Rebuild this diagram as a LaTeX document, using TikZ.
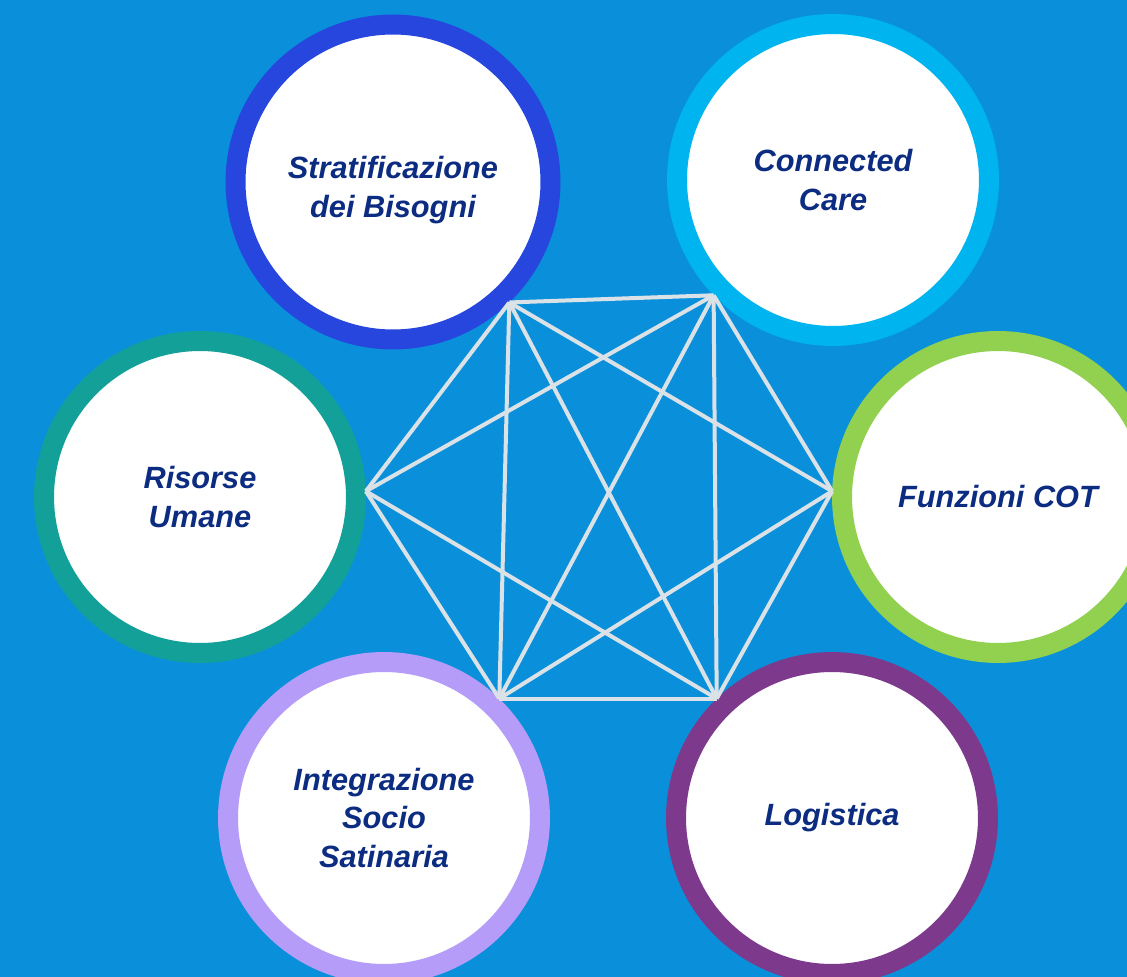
\documentclass[tikz,border=0pt]{standalone}
\usepackage{fontspec}
\setmainfont{Liberation Sans}
\usepackage{tikz}
\definecolor{bgblue}{RGB}{10,144,218}
\definecolor{txtblue}{RGB}{11,44,128}
\definecolor{linegray}{RGB}{218,226,232}
\definecolor{ringS}{RGB}{38,70,222}
\definecolor{ringC}{RGB}{0,180,240}
\definecolor{ringR}{RGB}{18,160,152}
\definecolor{ringF}{RGB}{146,208,80}
\definecolor{ringI}{RGB}{180,156,248}
\definecolor{ringL}{RGB}{125,58,140}
\tikzset{topic/.style = {shape=circle,draw,fill=white,line width=0.4cm,minimum size=6.24cm,
                         align=center,text=txtblue,font=\fontsize{17.5}{22}\selectfont\bfseries\itshape}}
\tikzset{link/.style = {draw=linegray,line width=0.08cm}}

\begin{document}
\begin{tikzpicture}[x=0.02cm,y=-0.02cm]
                \fill[bgblue] (0,0) rectangle (1127,977);
                \useasboundingbox (0,0) rectangle (1127,977);
                \node[topic,draw=ringS,minimum size=6.3cm] (S) at (393,182) {\mbox{}\\Stratificazione\\dei Bisogni};
                \node[topic,draw=ringC] (C) at (833,180) {Connected\\Care};
                \node[topic,draw=ringR] (R) at (200,497) {Risorse\\Umane};
                \node[topic,draw=ringF] (F) at (998,497) {Funzioni COT};
                \node[topic,draw=ringI] (I) at (384,818) {Integrazione\\Socio\\Satinaria};
                \node[topic,draw=ringL] (L) at (832,818) {Logistica};
                \draw[link] (S.-46) -- (C.-136);
                \draw[link] (S.-46) -- (F.178);
                \draw[link] (S.-46) -- (L.134);
                \draw[link] (S.-46) -- (I.46);
                \draw[link] (S.-46) -- (R.2);
                \draw[link] (C.-136) -- (F.178);
                \draw[link] (C.-136) -- (L.134);
                \draw[link] (C.-136) -- (I.46);
                \draw[link] (C.-136) -- (R.2);
                \draw[link] (F.178) -- (L.134);
                \draw[link] (F.178) -- (I.46);
                \draw[link] (L.134) -- (I.46);
                \draw[link] (L.134) -- (R.2);
                \draw[link] (I.46) -- (R.2);
            \end{tikzpicture}
\end{document}
